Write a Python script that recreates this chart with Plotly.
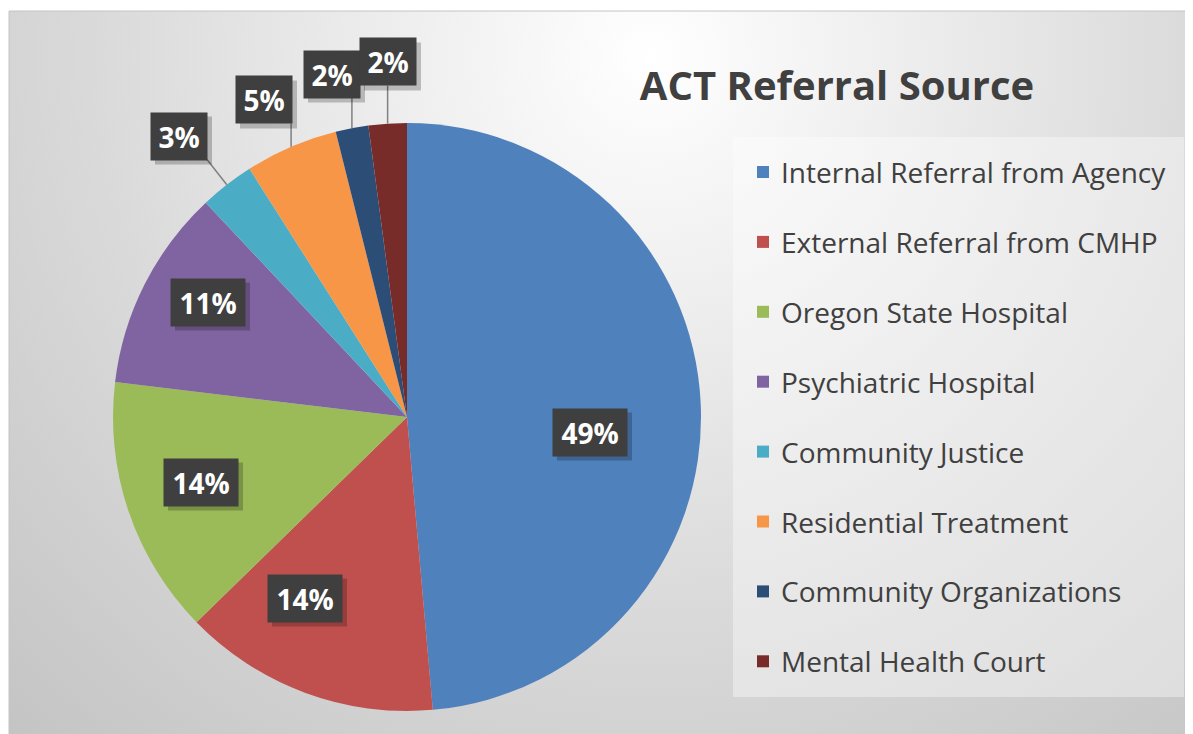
import base64
import math
import plotly.graph_objects as go

# ---------------- data ----------------
categories = [
    "Internal Referral from Agency",
    "External Referral from CMHP",
    "Oregon State Hospital",
    "Psychiatric Hospital",
    "Community Justice",
    "Residential Treatment",
    "Community Organizations",
    "Mental Health Court",
]
shares = [48.6, 14.1, 14.2, 11.1, 3.0, 5.1, 1.8, 2.1]
colors = ["#4F81BD", "#C0504D", "#9BBB59", "#8064A2",
          "#4BACC6", "#F79646", "#2C4D75", "#772C2A"]
title_text = "ACT Referral Source"

# ---------------- layout helpers ----------------
OFF = 8                      # page body margin of the browser
W, H = 1193 - OFF, 734 - OFF


def px(x):
    return (x - OFF) / W


def py(y):
    return 1 - (y - OFF) / H


CX, CY, R = 407, 417, 294           # pie centre / radius in screen pixels
# label box centres (screen pixels) - layout positions for the data labels
label_box_px = [(590, 432), (305, 598), (201, 482), (208, 302),
                (179, 136), (264, 100), (332, 74), (388, 62)]
outside = [False, False, False, False, True, True, True, True]
BOX_H = 47

total = sum(shares)
pct_text = [f"{round(v / total * 100)}%" for v in shares]

fig = go.Figure()
fig.add_trace(go.Pie(
    labels=categories,
    values=shares,
    sort=False,
    direction="clockwise",
    rotation=0,
    marker=dict(colors=colors, line=dict(width=0)),
    textinfo="none",
    hoverinfo="label+percent",
    showlegend=False,
    domain=dict(x=[px(CX - R), px(CX + R)], y=[py(CY + R), py(CY - R)]),
))

# ---------------- background gradient ----------------
AX0, AY0 = 9, 11
bw, bh = 1193 - AX0, 734 - AY0
svg = (
    f'<svg xmlns="http://www.w3.org/2000/svg" width="{bw}" height="{bh}" '
    f'viewBox="0 0 {bw} {bh}"><defs><radialGradient id="g" gradientUnits="userSpaceOnUse" '
    f'cx="640" cy="45" r="1000"><stop offset="0" stop-color="#ffffff"/>'
    f'<stop offset="0.55" stop-color="#dadada"/><stop offset="1" stop-color="#c0c0c0"/>'
    f'</radialGradient></defs><rect width="{bw}" height="{bh}" fill="url(#g)"/></svg>'
)
src = "data:image/svg+xml;base64," + base64.b64encode(svg.encode()).decode()

shapes = []
annotations = []

# chart-area border
shapes.append(dict(type="rect", xref="paper", yref="paper", layer="below",
                   x0=px(AX0), x1=px(1195), y0=py(736), y1=py(AY0),
                   line=dict(color="#c4c4c4", width=1), fillcolor="rgba(0,0,0,0)"))

# legend box
LEG_X0, LEG_X1, LEG_Y0, LEG_Y1 = 733, 1184, 137, 697
shapes.append(dict(type="rect", xref="paper", yref="paper", layer="below",
                   x0=px(LEG_X0), x1=px(LEG_X1), y0=py(LEG_Y1), y1=py(LEG_Y0),
                   line=dict(width=0), fillcolor="rgba(255,255,255,0.38)"))

# legend entries
ROW0, ROW_STEP = 172, 69.9
for i, (cat, col) in enumerate(zip(categories, colors)):
    yc = ROW0 + i * ROW_STEP
    shapes.append(dict(type="rect", xref="paper", yref="paper", layer="above",
                       x0=px(757), x1=px(769), y0=py(yc + 6), y1=py(yc - 6),
                       line=dict(width=0), fillcolor=col))
    annotations.append(dict(text=cat, xref="paper", yref="paper",
                            x=px(779), y=py(yc), xanchor="left", yanchor="middle",
                            showarrow=False,
                            font=dict(family="Open Sans", size=28, color="#404040")))

# data labels
cum = 0.0
for i, v in enumerate(shares):
    mid = (cum + v / 2) / total * 2 * math.pi
    cum += v
    bx, by = label_box_px[i]
    bwid = 56 if len(pct_text[i]) == 2 else 74
    x0, x1 = bx - bwid / 2, bx + bwid / 2
    y0, y1 = by - BOX_H / 2, by + BOX_H / 2
    if outside[i]:
        ex = CX + R * math.sin(mid)
        ey = CY - R * math.cos(mid)
        sx = min(max(ex, x0), x1)
        sy = min(max(ey, y0), y1)
        shapes.append(dict(type="line", xref="paper", yref="paper", layer="above",
                           x0=px(ex), y0=py(ey), x1=px(sx), y1=py(sy),
                           line=dict(color="#808080", width=1.5)))
    # shadow
    shapes.append(dict(type="rect", xref="paper", yref="paper", layer="above",
                       x0=px(x0 + 4), x1=px(x1 + 5), y0=py(y1 + 5), y1=py(y0 + 4),
                       line=dict(width=0), fillcolor="rgba(0,0,0,0.22)"))
    annotations.append(dict(text=pct_text[i], xref="paper", yref="paper",
                            x=px(bx), y=py(by), xanchor="center", yanchor="middle",
                            width=bwid, height=BOX_H, borderpad=0,
                            bgcolor="#3f3f3f", showarrow=False,
                            font=dict(family="Open Sans", size=28, color="#ffffff",
                                      weight="bold")))

fig.update_layout(
    width=W, height=H,
    margin=dict(l=0, r=0, t=0, b=0),
    paper_bgcolor="#ffffff",
    plot_bgcolor="#ffffff",
    images=[dict(source=src, xref="paper", yref="paper", x=px(AX0), y=py(AY0),
                 sizex=bw / W, sizey=bh / H, xanchor="left", yanchor="top",
                 sizing="stretch", layer="below")],
    shapes=shapes,
    annotations=annotations,
    title=dict(text=title_text, x=px(837), y=py(86), xanchor="center", yanchor="middle",
               xref="paper", yref="paper",
               font=dict(family="Open Sans", size=40, color="#404040", weight="bold")),
)

fig.write_html("out.html")
